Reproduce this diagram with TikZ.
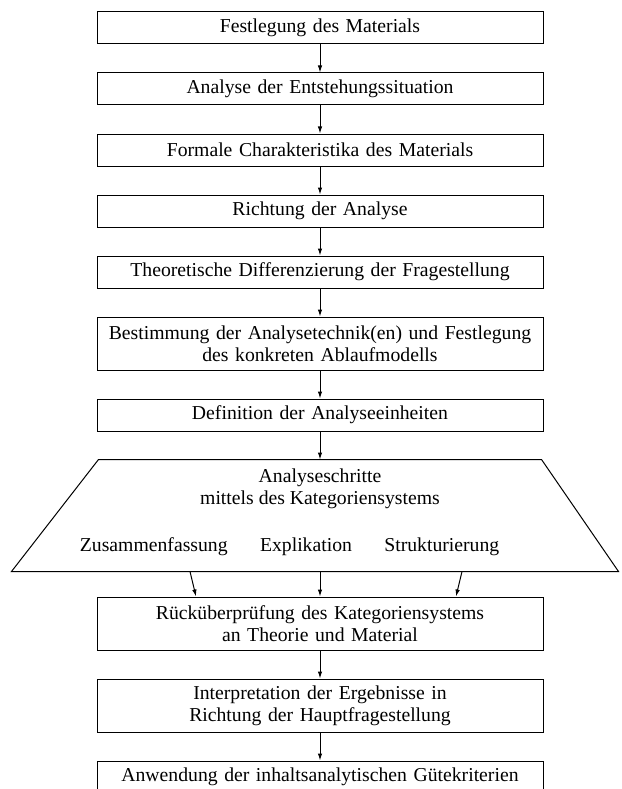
\documentclass[tikz,border=0pt]{standalone}
\usepackage{fontspec}
\setmainfont{Liberation Serif}
\usetikzlibrary{positioning,arrows.meta}

\begin{document}
\begin{tikzpicture}[
  x=1pt,y=1pt,
  every node/.style={font=\fontsize{19.7}{22}\selectfont},
  stage/.style={rectangle,draw,line width=1pt,text width=438pt,align=center,minimum height=32pt,inner xsep=4pt,inner ysep=3pt},
  twostage/.style={stage,minimum height=53pt},
  word/.style={inner sep=3pt,align=center},
  flow/.style={-{Latex[length=7pt,width=4.5pt]},line width=1pt},
  node distance=28pt,
]
\path[use as bounding box,clip] (0,0) rectangle (621,-789);

\node (material) [stage] at (320,-28) {Festlegung des Materials};
\node (situation) [stage,below=of material] {Analyse der Entstehungssituation};
\node (formal) [stage,below=of situation] {Formale Charakteristika des Materials};
\node (richtung) [stage,below=of formal] {Richtung der Analyse};
\node (theorie) [stage,below=of richtung] {Theoretische Differenzierung der Fragestellung};
\node (technik) [twostage,below=of theorie] {Bestimmung der Analysetechnik(en) und Festlegung\\des konkreten Ablaufmodells};
\node (einheiten) [stage,below=of technik] {Definition der Analyseeinheiten};

% trapezium with the analysis steps
\coordinate (schritte top) at ([yshift=-28pt]einheiten.south);
\coordinate (schritte bottom) at ([yshift=-112pt]schritte top);
\draw[line width=1pt] ([xshift=-221.5pt]schritte top) -- ([xshift=221.5pt]schritte top)
  -- ([xshift=298.5pt]schritte bottom) -- ([xshift=-308.5pt]schritte bottom) -- cycle;
\node (titel) [word,below=6pt of schritte top] {Analyseschritte\\mittels des Kategoriensystems};
\node (explikation) [word,anchor=base] at ([shift={(-14pt,20pt)}]schritte bottom) {Explikation};
\node (zusammen) [word,base left=26pt of explikation] {Zusammenfassung};
\node (struktur) [word,base right=26pt of explikation] {Strukturierung};

\node (pruefung) [twostage,below=25pt of schritte bottom] {Rücküberprüfung des Kategoriensystems\\an Theorie und Material};
\node (interpretation) [twostage,below=of pruefung] {Interpretation der Ergebnisse in\\Richtung der Hauptfragestellung};
\node (guete) [stage,below=of interpretation] {Anwendung der inhaltsanalytischen Gütekriterien};

\draw[flow] (material) -- (situation);
\draw[flow] (situation) -- (formal);
\draw[flow] (formal) -- (richtung);
\draw[flow] (richtung) -- (theorie);
\draw[flow] (theorie) -- (technik);
\draw[flow] (technik) -- (einheiten);
\draw[flow] (einheiten) -- (schritte top);
\draw[flow] ([xshift=-130pt]schritte bottom) -- ([xshift=-124pt]pruefung.north);
\draw[flow] (schritte bottom) -- (pruefung.north);
\draw[flow] ([xshift=142pt]schritte bottom) -- ([xshift=136pt]pruefung.north);
\draw[flow] (pruefung) -- (interpretation);
\draw[flow] (interpretation) -- (guete);
\end{tikzpicture}
\end{document}
